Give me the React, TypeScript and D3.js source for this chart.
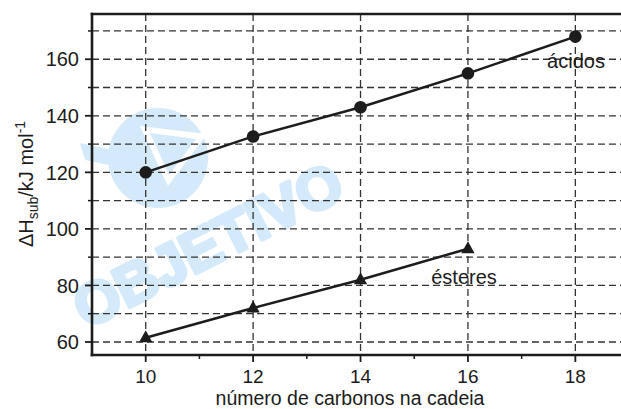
import React from "react";
import * as d3 from "d3";

const carbons = [10, 12, 14, 16, 18];
const acidos = [120, 132.7, 143, 155, 168];
const esterCarbons = [10, 12, 14, 16];
const esteres = [61.5, 72, 82, 93];
const yMajorTicks = [60, 80, 100, 120, 140, 160];
const yMinorTicks = [70, 90, 110, 130, 150, 170];
const xMajorTicks = [10, 12, 14, 16, 18];
const xMinorTicks = [11, 13, 15, 17];

const W = 621;
const H = 409;
const left = 92;
const top = 14;
const bottom = 355;

export default function App() {
  const x = d3.scaleLinear().domain([9, 18.85]).range([left, W]);
  const y = d3.scaleLinear().domain([55.4, 176]).range([bottom, top]);
  const line = d3.line<[number, number]>().x((d) => x(d[0])).y((d) => y(d[1]));
  const acPts: [number, number][] = carbons.map((c, i) => [c, acidos[i]]);
  const esPts: [number, number][] = esterCarbons.map((c, i) => [c, esteres[i]]);
  const font = "'Liberation Sans', Arial, Helvetica, sans-serif";
  const grid = "#333";
  const ink = "#1c1c1c";
  const wm = "#d4e9f9";
  const tri = (cx: number, cy: number, s: number) =>
    `M${cx},${cy - s * 0.62} L${cx + s * 0.55},${cy + s * 0.38} L${cx - s * 0.55},${cy + s * 0.38} Z`;

  return (
    <div style={{ position: "fixed", left: 0, top: 0 }}>
      <svg width={W} height={H} style={{ display: "block", background: "#fff" }} fontFamily={font}>
        {/* watermark */}
        <g fill={wm}>
          <circle cx={158} cy={158} r={50} />
          <polygon points="80,143 150,158 142,172 85,160" />
          <polygon points="140,126 207,134 168,186" fill="#fff" />
          <polygon points="150,133 196,139 169,175" fill={wm} />
          <text
            x={208}
            y={265}
            fontSize={58}
            fontWeight="bold"
            textAnchor="middle"
            stroke={wm}
            strokeWidth={4}
            strokeLinejoin="round"
            transform="rotate(-27 208 245)"
            fontFamily="'Liberation Sans', Arial, sans-serif"
          >
            OBJETIVO
          </text>
        </g>
        {/* grid */}
        {[...yMajorTicks, ...yMinorTicks].map((v) => (
          <line key={"gy" + v} x1={left} x2={W} y1={y(v)} y2={y(v)} stroke={grid} strokeWidth={1.3} strokeDasharray="7,4" />
        ))}
        {xMajorTicks.map((v) => (
          <line key={"gx" + v} x1={x(v)} x2={x(v)} y1={top} y2={bottom} stroke={grid} strokeWidth={1.3} strokeDasharray="7,4" />
        ))}
        {/* axes */}
        <line x1={left} x2={left} y1={top - 1.3} y2={bottom + 1.3} stroke={ink} strokeWidth={2.6} />
        <line x1={left - 1.3} x2={W} y1={top} y2={top} stroke={ink} strokeWidth={2.6} />
        <line x1={left - 1.3} x2={W} y1={bottom} y2={bottom} stroke={ink} strokeWidth={2.6} />
        {yMajorTicks.map((v) => (
          <g key={"ty" + v}>
            <line x1={left - 7} x2={left} y1={y(v)} y2={y(v)} stroke={ink} strokeWidth={1.8} />
            <text x={left - 13} y={y(v)} dy="0.36em" fontSize={20} textAnchor="end" fill={ink}>
              {v}
            </text>
          </g>
        ))}
        {yMinorTicks.map((v) => (
          <line key={"tym" + v} x1={left - 4} x2={left} y1={y(v)} y2={y(v)} stroke={ink} strokeWidth={1.5} />
        ))}
        {xMajorTicks.map((v) => (
          <g key={"tx" + v}>
            <line x1={x(v)} x2={x(v)} y1={bottom} y2={bottom + 7} stroke={ink} strokeWidth={1.8} />
            <text x={x(v)} y={bottom + 28} fontSize={19} textAnchor="middle" fill={ink}>
              {v}
            </text>
          </g>
        ))}
        {xMinorTicks.map((v) => (
          <line key={"txm" + v} x1={x(v)} x2={x(v)} y1={bottom} y2={bottom + 4} stroke={ink} strokeWidth={1.5} />
        ))}
        {/* axis titles */}
        <text x={350} y={404.5} fontSize={19.5} textAnchor="middle" fill={ink}>
          número de carbonos na cadeia
        </text>
        <text transform="translate(33,184) rotate(-90)" fontSize={20} textAnchor="middle" fill={ink}>
          ΔH<tspan fontSize={14} dy={5}>sub</tspan>
          <tspan dy={-5}>/kJ mol</tspan>
          <tspan fontSize={14} dy={-8}>-1</tspan>
        </text>
        {/* series */}
        <path d={line(acPts) || ""} fill="none" stroke={ink} strokeWidth={2.5} />
        {acPts.map((p, i) => (
          <circle key={"c" + i} cx={x(p[0])} cy={y(p[1])} r={6.3} fill={ink} />
        ))}
        <path d={line(esPts) || ""} fill="none" stroke={ink} strokeWidth={2.5} />
        {esPts.map((p, i) => (
          <path key={"t" + i} d={tri(x(p[0]), y(p[1]), 12)} fill={ink} />
        ))}
        <text x={576} y={68} fontSize={20} textAnchor="middle" fill={ink}>
          ácidos
        </text>
        <text x={464} y={284} fontSize={20} textAnchor="middle" fill={ink}>
          ésteres
        </text>
      </svg>
    </div>
  );
}
